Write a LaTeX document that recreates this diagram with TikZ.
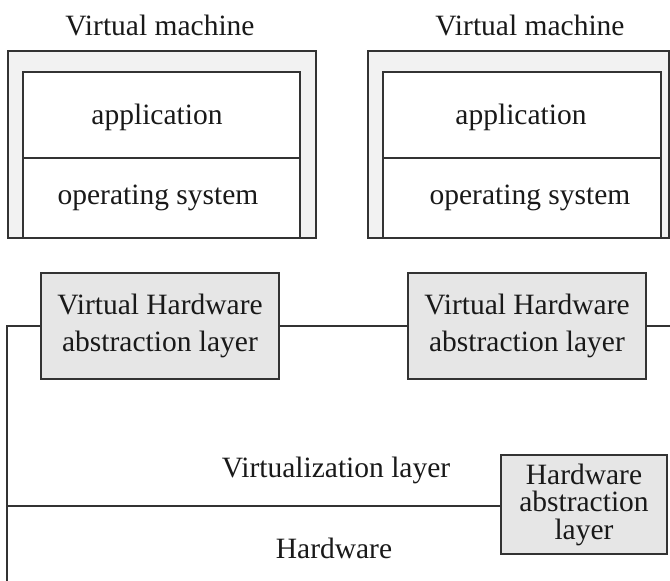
\documentclass[tikz,border=0pt]{standalone}
\usepackage{fontspec}
\setmainfont{Liberation Serif}
\definecolor{ln}{HTML}{333333}
\definecolor{vmfill}{HTML}{F2F2F2}
\definecolor{boxfill}{HTML}{E6E6E6}
\begin{document}
\begin{tikzpicture}[x=1pt,y=-1pt,
  every node/.style={font=\fontsize{29.5}{36}\selectfont, text=black!90, inner sep=0pt},
  outer/.style={draw=ln, line width=1.4pt, fill=vmfill, minimum width=#1, minimum height=187pt},
  layer/.style={draw=ln, line width=1.4pt, fill=white, minimum width=#1},
  gbox/.style={draw=ln, line width=1.4pt, fill=boxfill, align=center},
  conn/.style={draw=ln, line width=1.4pt},
  lbl/.style={}]
\useasboundingbox (0,0) rectangle (670,581);
% left VM
\node[lbl] (t1) at (160,25) {Virtual machine};
\node[outer=308pt] (vm1) at (162,144.5) {};
\node[layer=277pt, minimum height=86pt] (app1) at (161.5,115) {};
\node[lbl] (app1t) at (157,117) {application};
\node[layer=277pt, minimum height=80pt] (os1) at (161.5,198) {};
\node[lbl] (os1t) at (158,198) {operating system};
\draw[conn] (vm1.south west) -- (vm1.south east);
% right VM
\node[lbl] (t2) at (530,25) {Virtual machine};
\node[outer=301pt] (vm2) at (518.5,144.5) {};
\node[layer=278pt, minimum height=86pt] (app2) at (522,115) {};
\node[lbl] (app2t) at (521,117) {application};
\node[layer=278pt, minimum height=80pt] (os2) at (522,198) {};
\node[lbl] (os2t) at (530,198) {operating system};
\draw[conn] (vm2.south west) -- (vm2.south east);
% virtual HAL boxes
\node[gbox, minimum width=238pt, minimum height=106pt, font=\fontsize{29.5}{37}\selectfont] (vh1) at (160,326) {Virtual Hardware\\abstraction layer};
\node[gbox, minimum width=238pt, minimum height=106pt, font=\fontsize{29.5}{37}\selectfont] (vh2) at (527,326) {Virtual Hardware\\abstraction layer};
% HAL
\node[gbox, minimum width=166pt, minimum height=99pt, font=\fontsize{29.5}{27.5}\selectfont] (hal) at (584,504.5) {Hardware\\abstraction\\layer};
% connectors
\coordinate (c1) at (7,326);
\coordinate (c2) at (670,326);
\coordinate (c3) at (7,581);
\coordinate (c4) at (7,506);
\draw[conn] (c3) -- (c1) -- (vh1.west);
\draw[conn] (vh1.east) -- (vh2.west);
\draw[conn] (vh2.east) -- (c2);
\draw[conn] (c4) -- (c4 -| hal.west);
% labels
\node[lbl] (virt) at (336,470) {Virtualization layer};
\node[lbl] (hw) at (334,548) {Hardware};
\end{tikzpicture}
\end{document}
